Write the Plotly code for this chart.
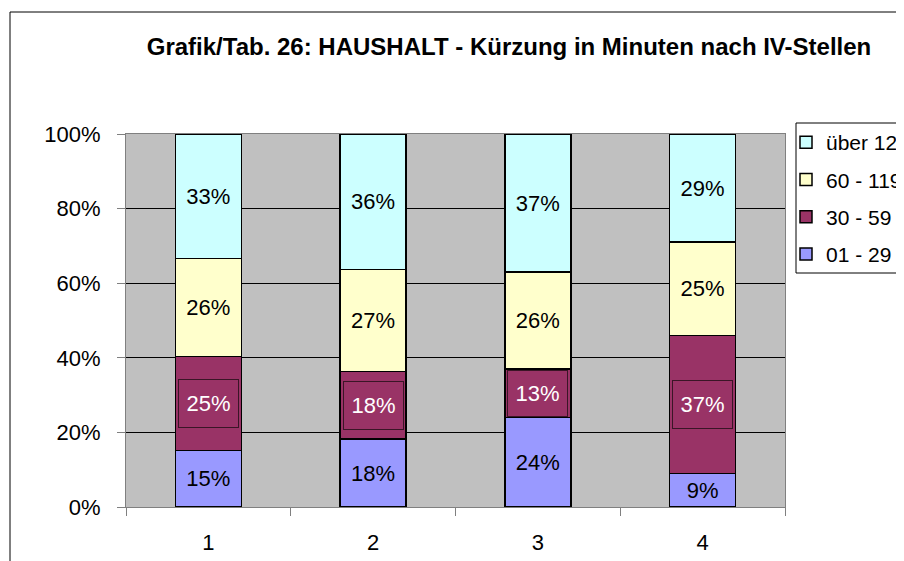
import plotly.graph_objects as go

categories = ["1", "2", "3", "4"]
series_names = ["01 - 29", "30 - 59", "60 - 119", "über 120"]
v_01_29 = [15, 18, 24, 9]
v_30_59 = [25, 18, 13, 37]
v_60_119 = [26, 27, 26, 25]
v_ueber_120 = [33, 36, 37, 29]
series_values = [v_01_29, v_30_59, v_60_119, v_ueber_120]
colors = ["#9999FF", "#993366", "#FFFFCC", "#CCFFFF"]
ytick_vals = [0, 20, 40, 60, 80, 100]
ytick_text = ["0%", "20%", "40%", "60%", "80%", "100%"]
title_text = "Grafik/Tab. 26: HAUSHALT - Kürzung in Minuten nach IV-Stellen"

FONT = "Liberation Sans, Arial, sans-serif"
FS = 22
OFF = 8  # page body margin

L, T, PW, PH = 126 - OFF, 134 - OFF, 659, 373
W, H = 904, 561

fig = go.Figure()
n = len(series_names)
for i, (name, vals, col) in enumerate(zip(series_names, series_values, colors)):
    boxed = (i == 1)
    fig.add_trace(go.Bar(
        x=categories, y=vals, name=name,
        marker=dict(color=col, line=dict(color="black", width=1.5)),
        width=0.4,
        text=None if boxed else [f"{v}%" for v in vals],
        textposition="inside", insidetextanchor="middle", textangle=0,
        constraintext="none",
        textfont=dict(family=FONT, size=FS, color="black"),
        legendgroup=name, legendrank=n - i,
        hoverinfo="skip",
    ))

# boxed labels for the 30 - 59 series (positions derived from the data)
totals = [sum(s[k] for s in series_values) for k in range(len(categories))]
for k, cat in enumerate(categories):
    below = series_values[0][k]
    v = series_values[1][k]
    mid = (below + v / 2) / totals[k] * 100
    seg_px = v / totals[k] * PH
    fig.add_annotation(
        x=k, y=mid, xref="x", yref="y", text=f"{v}%", showarrow=False,
        font=dict(family=FONT, size=FS, color="white"),
        bordercolor="#3a1526", borderwidth=1, borderpad=0,
        width=59, height=min(47, seg_px - 3), valign="middle",
    )

def px_x(sx):
    return (sx - OFF - L) / PW

def px_y(sy):
    return (T + PH - (sy - OFF)) / PH

# outer chart frame
fig.add_shape(type="rect", xref="paper", yref="paper",
              x0=px_x(10), x1=2.0, y0=-1.0, y1=px_y(12),
              line=dict(color="black", width=1), fillcolor="rgba(0,0,0,0)", layer="below")
# legend frame
fig.add_shape(type="rect", xref="paper", yref="paper",
              x0=px_x(796), x1=px_x(960), y0=px_y(273), y1=px_y(123),
              line=dict(color="black", width=1), fillcolor="white", layer="below")

fig.update_layout(
    width=W, height=H,
    margin=dict(l=L, r=W - L - PW, t=T, b=H - T - PH, autoexpand=False),
    paper_bgcolor="white", plot_bgcolor="#C0C0C0",
    barmode="stack", barnorm="percent",
    title=dict(text=f"<b>{title_text}</b>", x=(509 - OFF) / W, xanchor="center",
               y=1 - (47 - OFF) / H, yanchor="middle",
               font=dict(family=FONT, size=24, color="black")),
    font=dict(family=FONT, size=FS, color="black"),
    showlegend=True,
    legend=dict(
        x=px_x(786), xanchor="left", y=px_y(122), yanchor="top",
        traceorder="grouped", tracegroupgap=7, itemwidth=30,
        borderwidth=0, bgcolor="rgba(0,0,0,0)",
        font=dict(family=FONT, size=21, color="black"),
        itemclick=False,
    ),
    xaxis=dict(type="category", categoryorder="array", categoryarray=categories,
               range=[-0.5, len(categories) - 0.5],
               showgrid=False, showline=True, linecolor="#808080", linewidth=1, mirror=True,
               ticks="outside", tickson="boundaries", ticklen=8, tickcolor="#808080",
               ticklabelstandoff=16,
               tickfont=dict(family=FONT, size=FS), fixedrange=True),
    yaxis=dict(range=[0, 100], tickvals=ytick_vals, ticktext=ytick_text,
               showgrid=True, gridcolor="black", gridwidth=1,
               showline=True, linecolor="#808080", linewidth=1, mirror=True,
               ticks="outside", ticklen=8, tickcolor="#808080",
               ticklabelstandoff=12,
               tickfont=dict(family=FONT, size=FS), zeroline=False, fixedrange=True),
)

fig.write_html("out.html")
